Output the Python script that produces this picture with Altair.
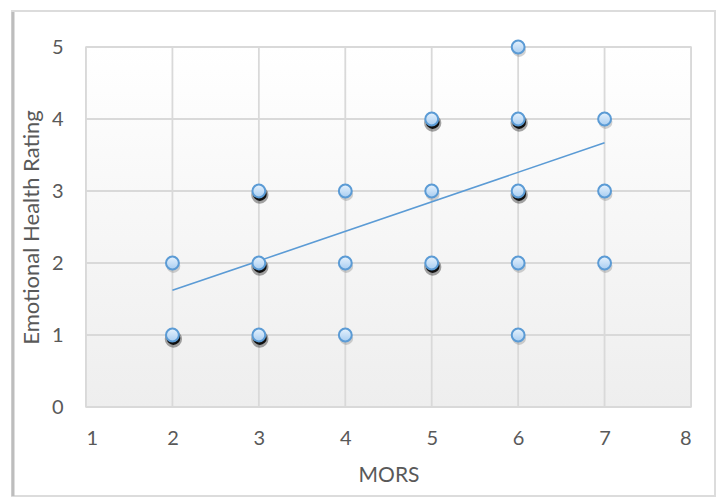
import altair as alt
import pandas as pd

# Data
mors = [2, 2, 3, 3, 3, 4, 4, 4, 5, 5, 5, 6, 6, 6, 6, 6, 7, 7, 7]
rating = [1, 2, 1, 2, 3, 1, 2, 3, 2, 3, 4, 1, 2, 3, 4, 5, 2, 3, 4]
# 1 = several observations overlap (darker shadow), 0 = single
stacked = [1, 0, 1, 1, 1, 0, 0, 0, 1, 0, 1, 0, 0, 1, 1, 0, 0, 0, 0]

trend_x = [2, 7]
trend_y = [1.62, 3.67]

x_ticks = [1, 2, 3, 4, 5, 6, 7, 8]
y_ticks = [0, 1, 2, 3, 4, 5]

pts = pd.DataFrame({"MORS": mors, "Rating": rating, "stacked": stacked})
trend = pd.DataFrame({"MORS": trend_x, "Rating": trend_y})
xgrid = pd.DataFrame({"MORS": x_ticks})
ygrid = pd.DataFrame({"Rating": y_ticks})

FONT = "Lato"
W, H = 605, 360
GRID = "#d9d9d9"

xscale = alt.Scale(domain=[1, 8], nice=False, zero=False)
yscale = alt.Scale(domain=[0, 5], nice=False, zero=True)

xaxis = alt.Axis(values=x_ticks, format="d", title="MORS", grid=False, domain=False,
                 ticks=False, labelPadding=31, labelBaseline="middle",
                 labelFontSize=20, labelColor="#595959", labelFont=FONT,
                 titleFontSize=21, titleFont=FONT, titleColor="#595959",
                 titleFontWeight="normal", titleY=68, titleBaseline="middle")
yaxis = alt.Axis(values=y_ticks, format="d", title="Emotional Health Rating",
                 grid=False, domain=False, ticks=False,
                 labelPadding=23, labelFontSize=20, labelColor="#595959",
                 labelFont=FONT, titleFontSize=22, titleFont=FONT,
                 titleColor="#595959", titleFontWeight="normal", titleX=-55,
                 titleBaseline="middle")

X = dict(scale=xscale, axis=xaxis)
Y = dict(scale=yscale, axis=yaxis)

bg = alt.Chart(pd.DataFrame({"a": [0]})).mark_rect(
    fill=alt.Gradient(gradient="linear", x1=0, x2=0, y1=0, y2=1,
                      stops=[alt.GradientStop(color="#ffffff", offset=0),
                             alt.GradientStop(color="#eeeeee", offset=1)])
).encode(
    x=alt.datum(1, type="quantitative", **X), x2=alt.datum(8),
    y=alt.datum(0, type="quantitative", **Y), y2=alt.datum(5),
)

vgrid = alt.Chart(xgrid).mark_rule(color=GRID, strokeWidth=1.8).encode(
    x=alt.X("MORS:Q", **X),
    y=alt.datum(0, type="quantitative", **Y), y2=alt.datum(5),
)
hgrid = alt.Chart(ygrid).mark_rule(color=GRID, strokeWidth=1.8).encode(
    y=alt.Y("Rating:Q", **Y),
    x=alt.datum(1, type="quantitative", **X), x2=alt.datum(8),
)

frame = alt.Chart(pd.DataFrame({"a": [0]})).mark_rect(
    fill=None, stroke="#dcdcdc", strokeWidth=2
).encode(x=alt.value(-74), x2=alt.value(629), y=alt.value(-36), y2=alt.value(449))

frame_left = alt.Chart(pd.DataFrame({"a": [0]})).mark_rule(
    stroke="#bdbdbd", strokeWidth=3
).encode(x=alt.value(-73), y=alt.value(-35), y2=alt.value(449))

base = alt.Chart(pts).encode(
    x=alt.X("MORS:Q", **X),
    y=alt.Y("Rating:Q", **Y),
)

light_shadow = base.transform_filter("datum.stacked == 0").mark_circle(
    color="#7f7f7f", opacity=0.35, size=190, xOffset=1, yOffset=3
)
dark_halo = base.transform_filter("datum.stacked == 1").mark_circle(
    color="#000000", opacity=0.35, size=300, xOffset=1, yOffset=4
)
dark_shadow = base.transform_filter("datum.stacked == 1").mark_circle(
    color="#000000", opacity=0.9, size=190, xOffset=1, yOffset=3
)

points = base.mark_circle(
    fill=alt.Gradient(gradient="linear", x1=0, x2=0, y1=0, y2=1,
                      stops=[alt.GradientStop(color="#e6f2fd", offset=0),
                             alt.GradientStop(color="#a8cdf1", offset=1)]),
    fillOpacity=1, stroke="#5b9bd5", strokeWidth=2, size=165, opacity=1
)

line = alt.Chart(trend).mark_line(color="#5b9bd5", strokeWidth=1.6).encode(
    x=alt.X("MORS:Q", **X),
    y=alt.Y("Rating:Q", **Y),
)

chart = alt.layer(bg, vgrid, hgrid, frame, frame_left, light_shadow, dark_halo,
                  dark_shadow, line, points).properties(
    width=W, height=H,
    autosize=alt.AutoSizeParams(type="none"),
    padding={"left": 86, "top": 47, "right": 27, "bottom": 93},
    background="#ffffff",
).configure_view(stroke="#d9d9d9", strokeWidth=1.5)

chart.save("out.html", embed_options={"renderer": "svg", "actions": False})
